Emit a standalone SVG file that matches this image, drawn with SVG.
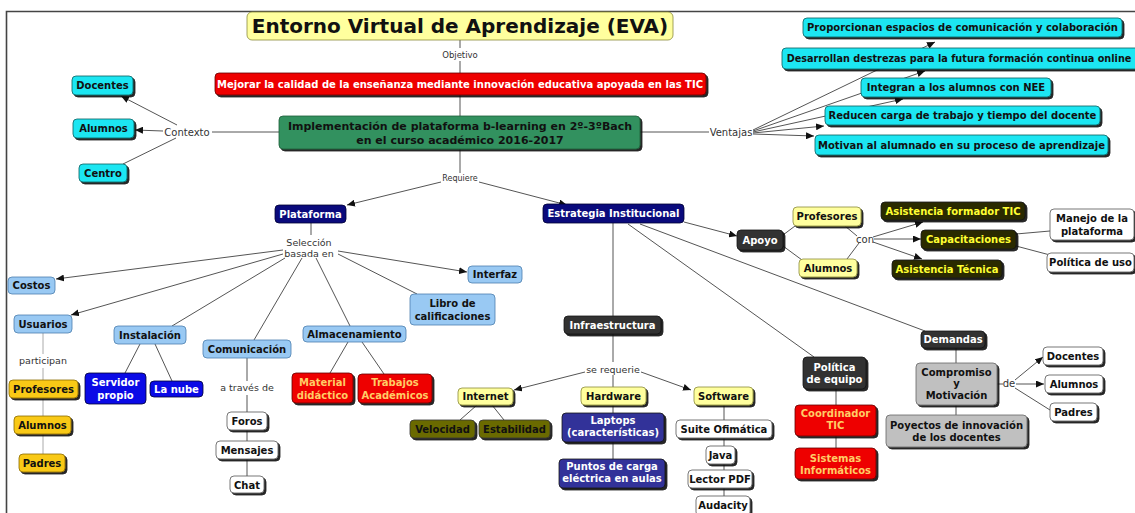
<svg xmlns="http://www.w3.org/2000/svg" width="1135" height="513" viewBox="0 0 1135 513">
<defs>
<filter id="sh" x="-10%" y="-20%" width="125%" height="160%"><feDropShadow dx="2" dy="2" stdDeviation="0.5" flood-color="#111" flood-opacity="0.9"/></filter>
<marker id="ar" markerUnits="userSpaceOnUse" markerWidth="9" markerHeight="7" refX="8" refY="3.5" orient="auto"><path d="M0,0 L8,3.5 L0,7 z" fill="#111"/></marker>
<style>
text{font-family:"DejaVu Sans","Verdana",sans-serif;text-anchor:middle}
.n{font-weight:bold;font-size:10px}
.lb{font-size:9.5px;fill:#333}
rect{stroke-width:0.8}
.cy{fill:#1ee6f2;stroke:#0b5e5e;filter:url(#sh)}
.rd{fill:#ee0000;stroke:#600;filter:url(#sh)}
.nv{fill:#0a0a7c;stroke:#003}
.lbb{fill:#99c9f3;stroke:#4d7fae}
.or{fill:#f9c919;stroke:#8a6a00;filter:url(#sh)}
.bl{fill:#0a0ae6;stroke:#003}
.wh{fill:#fff;stroke:#555;filter:url(#sh)}
.ly{fill:#ffff9e;stroke:#8a8a3a;filter:url(#sh)}
.dg{fill:#333;stroke:#111;filter:url(#sh)}
.ol{fill:#2b2b00;stroke:#111;filter:url(#sh)}
.ov{fill:#6b6b00;stroke:#333;filter:url(#sh)}
.gr{fill:#c0c0c0;stroke:#666;filter:url(#sh)}
.pu{fill:#333399;stroke:#111;filter:url(#sh)}
.tw{fill:#fff}
.tk{fill:#111}
.ty{fill:#ffff33}
.to{fill:#ffcc66}
.c path,.c line{stroke:#555;stroke-width:1;fill:none}
.c .lt{stroke:#aaa}
.c .ar{marker-end:url(#ar)}
</style>
</defs>
<rect width="1135" height="513" fill="#fff"/>
<path d="M6.5,513 V11.5 H1135" fill="none" stroke="#444" stroke-width="1.6"/>

<g id="connectors" class="c">
<line x1="460" y1="40" x2="460" y2="48"/>
<line x1="460" y1="61" x2="460" y2="73"/>
<line x1="460" y1="95" x2="460" y2="116"/>
<line x1="460" y1="149" x2="460" y2="173"/>
<line x1="279" y1="132" x2="212" y2="132"/>
<line class="ar" x1="177" y1="125" x2="121" y2="96"/>
<line class="ar" x1="163" y1="131" x2="135" y2="130"/>
<line x1="176" y1="138" x2="123" y2="164"/>
<line x1="640" y1="132" x2="709" y2="132"/>
<line class="ar" x1="753" y1="130" x2="935" y2="42"/>
<line class="ar" x1="753" y1="131" x2="925" y2="71"/>
<line class="ar" x1="753" y1="132" x2="903" y2="99"/>
<line class="ar" x1="753" y1="133" x2="824" y2="126"/>
<line class="ar" x1="753" y1="134" x2="814" y2="136"/>
<line class="ar" x1="441" y1="182" x2="347" y2="205"/>
<line class="ar" x1="479" y1="182" x2="567" y2="205"/>
<line x1="311" y1="223" x2="311" y2="235"/>
<line class="ar" x1="283" y1="250" x2="56" y2="279"/>
<line class="ar" x1="283" y1="254" x2="71" y2="315"/>
<line x1="285" y1="258" x2="172" y2="326"/>
<line x1="302" y1="258" x2="254" y2="340"/>
<line x1="316" y1="258" x2="350" y2="326"/>
<line x1="338" y1="254" x2="417" y2="294"/>
<line class="ar" x1="338" y1="251" x2="467" y2="272"/>
<line class="lt" x1="43" y1="333" x2="43" y2="354"/>
<line class="lt" x1="43" y1="368" x2="43" y2="454"/>
<line x1="140" y1="344" x2="125" y2="373"/>
<line x1="155" y1="344" x2="172" y2="381"/>
<line x1="247" y1="358" x2="247" y2="381"/>
<line x1="247" y1="395" x2="247" y2="476"/>
<line x1="348" y1="342" x2="330" y2="373"/>
<line x1="362" y1="342" x2="384" y2="374"/>
<line x1="613" y1="223" x2="613" y2="316"/>
<line x1="613" y1="334" x2="613" y2="362"/>
<line x1="613" y1="375" x2="613" y2="459"/>
<line class="ar" x1="585" y1="372" x2="514" y2="390"/>
<line class="ar" x1="641" y1="372" x2="691" y2="390"/>
<line x1="477" y1="405" x2="460" y2="420"/>
<line x1="492" y1="405" x2="504" y2="420"/>
<line x1="724" y1="405" x2="724" y2="496"/>
<line class="ar" x1="684" y1="222" x2="737" y2="236"/>
<line x1="783" y1="235" x2="795" y2="226"/>
<line x1="783" y1="246" x2="802" y2="260"/>
<line x1="845" y1="226" x2="857" y2="236"/>
<line x1="847" y1="259" x2="859" y2="243"/>
<line class="ar" x1="873" y1="237" x2="923" y2="222"/>
<line class="ar" x1="874" y1="239" x2="921" y2="239"/>
<line class="ar" x1="873" y1="242" x2="922" y2="259"/>
<line x1="1016" y1="234" x2="1050" y2="231"/>
<line x1="1016" y1="246" x2="1050" y2="255"/>
<line x1="640" y1="224" x2="925" y2="331"/>
<line x1="628" y1="224" x2="814" y2="357"/>
<line x1="956" y1="348" x2="956" y2="363"/>
<line x1="956" y1="405" x2="956" y2="415"/>
<line x1="997" y1="384" x2="1003" y2="384"/>
<line class="ar" x1="1015" y1="380" x2="1043" y2="357"/>
<line class="ar" x1="1016" y1="384" x2="1044" y2="384"/>
<line x1="1015" y1="388" x2="1050" y2="410"/>
<line x1="836" y1="389" x2="836" y2="448"/>
</g>

<g id="labels">
<text class="lb" x="460" y="58" style="font-size:8.5px">Objetivo</text>
<text class="lb" x="187" y="136" style="font-size:10px">Contexto</text>
<text class="lb" x="731" y="136" style="font-size:10px">Ventajas</text>
<text class="lb" x="460" y="181" style="font-size:8px">Requiere</text>
<text class="lb" x="309" y="246">Selección</text>
<text class="lb" x="309" y="257">basada en</text>
<text class="lb" x="43" y="364">participan</text>
<text class="lb" x="247" y="391">a través de</text>
<text class="lb" x="613" y="373">se requerie</text>
<text class="lb" x="865" y="243" style="font-size:10px">con</text>
<text class="lb" x="1009" y="387" style="font-size:10px">de</text>
</g>

<g id="title"><rect x="247" y="12" width="426" height="28" rx="5" fill="#ffff9e" stroke="#8a8a3a"/><text x="460" y="33" style="font-size:20px;font-weight:bold" class="tk">Entorno Virtual de Aprendizaje (EVA)</text></g>
<g id="objetivo"><rect class="rd" x="215" y="73" width="491" height="22" rx="4"/><text class="n tw" x="460" y="88">Mejorar la calidad de la enseñanza mediante innovación educativa apoyada en las TIC</text></g>
<g id="implementacion"><rect x="279" y="116" width="361" height="33" rx="4" fill="#33915e" stroke="#1d5a3a" filter="url(#sh)"/><text class="n tk" x="460" y="130" style="font-size:11px">Implementación de plataforma b-learning en 2º-3ºBach</text><text class="n tk" x="460" y="144" style="font-size:11px">en el curso académico 2016-2017</text></g>

<g id="ctx-docentes"><rect class="cy" x="72" y="76" width="61" height="19" rx="4"/><text class="n tk" x="102.5" y="89">Docentes</text></g>
<g id="ctx-alumnos"><rect class="cy" x="73" y="119" width="61" height="19" rx="4"/><text class="n tk" x="103.5" y="132">Alumnos</text></g>
<g id="ctx-centro"><rect class="cy" x="79" y="164" width="48" height="18" rx="4"/><text class="n tk" x="103" y="177">Centro</text></g>

<g id="v1"><rect class="cy" x="803" y="18" width="319" height="19" rx="4"/><text class="n tk" x="962.5" y="31">Proporcionan espacios de comunicación y colaboración</text></g>
<g id="v2"><rect class="cy" x="782" y="48" width="360" height="21" rx="4"/><text class="n tk" x="959" y="62" style="font-size:9.7px">Desarrollan destrezas para la futura formación continua online</text></g>
<g id="v3"><rect class="cy" x="861" y="78" width="190" height="19" rx="4"/><text class="n tk" x="956" y="91">Integran a los alumnos con NEE</text></g>
<g id="v4"><rect class="cy" x="825" y="106" width="275" height="19" rx="4"/><text class="n tk" x="962.5" y="119">Reducen carga de trabajo y tiempo del docente</text></g>
<g id="v5"><rect class="cy" x="815" y="135" width="293" height="20" rx="4"/><text class="n tk" x="961.5" y="149">Motivan al alumnado en su proceso de aprendizaje</text></g>

<g id="plataforma"><rect class="nv" x="275" y="205" width="71" height="18" rx="4"/><text class="n tw" x="310.5" y="218">Plataforma</text></g>
<g id="estrategia"><rect class="nv" x="543" y="204" width="141" height="19" rx="4"/><text class="n tw" x="613.5" y="217">Estrategia Institucional</text></g>

<g id="costos"><rect class="lbb" x="8" y="277" width="47" height="17" rx="4"/><text class="n tk" x="31.5" y="289">Costos</text></g>
<g id="usuarios"><rect class="lbb" x="14" y="315" width="58" height="18" rx="4"/><text class="n tk" x="43" y="328">Usuarios</text></g>
<g id="u-profesores"><rect class="or" x="9" y="380" width="69" height="18" rx="4"/><text class="n tk" x="43.5" y="393">Profesores</text></g>
<g id="u-alumnos"><rect class="or" x="14" y="416" width="57" height="18" rx="4"/><text class="n tk" x="42.5" y="429">Alumnos</text></g>
<g id="u-padres"><rect class="or" x="19" y="454" width="46" height="18" rx="4"/><text class="n tk" x="42" y="467">Padres</text></g>
<g id="instalacion"><rect class="lbb" x="114" y="326" width="72" height="18" rx="4"/><text class="n tk" x="150" y="339">Instalación</text></g>
<g id="servidor"><rect class="bl" x="85" y="373" width="61" height="31" rx="4"/><text class="n tw" x="115.5" y="386">Servidor</text><text class="n tw" x="115.5" y="399">propio</text></g>
<g id="nube"><rect class="bl" x="150" y="381" width="53" height="16" rx="4"/><text class="n tw" x="176.5" y="393">La nube</text></g>
<g id="comunicacion"><rect class="lbb" x="203" y="340" width="88" height="18" rx="4"/><text class="n tk" x="247" y="353">Comunicación</text></g>
<g id="foros"><rect class="wh" x="227" y="412" width="40" height="18" rx="4"/><text class="n tk" x="247" y="425">Foros</text></g>
<g id="mensajes"><rect class="wh" x="216" y="441" width="62" height="18" rx="4"/><text class="n tk" x="247" y="454">Mensajes</text></g>
<g id="chat"><rect class="wh" x="230" y="476" width="34" height="17" rx="4"/><text class="n tk" x="247" y="489">Chat</text></g>
<g id="almacenamiento"><rect class="lbb" x="303" y="326" width="103" height="16" rx="4"/><text class="n tk" x="354.5" y="338">Almacenamiento</text></g>
<g id="material"><rect class="rd" x="292" y="373" width="61" height="30" rx="4"/><text class="n to" x="322.5" y="386">Material</text><text class="n to" x="322.5" y="399">didáctico</text></g>
<g id="trabajos"><rect class="rd" x="358" y="374" width="74" height="29" rx="4"/><text class="n to" x="395" y="386">Trabajos</text><text class="n to" x="395" y="399">Académicos</text></g>
<g id="libro"><rect class="lbb" x="410" y="294" width="85" height="31" rx="4"/><text class="n tk" x="452.5" y="307">Libro de</text><text class="n tk" x="452.5" y="320">calificaciones</text></g>
<g id="interfaz"><rect class="lbb" x="468" y="266" width="54" height="17" rx="4"/><text class="n tk" x="495" y="278">Interfaz</text></g>

<g id="apoyo"><rect class="dg" x="737" y="230" width="46" height="20" rx="4"/><text class="n tw" x="760" y="244">Apoyo</text></g>
<g id="a-profesores"><rect class="ly" x="793" y="207" width="68" height="19" rx="4"/><text class="n tk" x="827" y="220">Profesores</text></g>
<g id="a-alumnos"><rect class="ly" x="799" y="259" width="58" height="18" rx="4"/><text class="n tk" x="828" y="272">Alumnos</text></g>
<g id="asist-formador"><rect class="ol" x="881" y="202" width="144" height="18" rx="4"/><text class="n ty" x="953" y="215">Asistencia formador TIC</text></g>
<g id="capacitaciones"><rect class="ol" x="921" y="230" width="95" height="19" rx="4"/><text class="n ty" x="968.5" y="243">Capacitaciones</text></g>
<g id="asist-tecnica"><rect class="ol" x="892" y="260" width="110" height="18" rx="4"/><text class="n ty" x="947" y="273">Asistencia Técnica</text></g>
<g id="manejo"><rect class="wh" x="1050" y="209" width="84" height="31" rx="4"/><text class="n tk" x="1092" y="222">Manejo de la</text><text class="n tk" x="1092" y="235">plataforma</text></g>
<g id="politica-uso"><rect class="wh" x="1047" y="253" width="87" height="19" rx="4"/><text class="n tk" x="1090.5" y="266">Política de uso</text></g>

<g id="demandas"><rect class="dg" x="921" y="331" width="64" height="17" rx="4"/><text class="n tw" x="953" y="343">Demandas</text></g>
<g id="compromiso"><rect class="gr" x="916" y="363" width="81" height="42" rx="4"/><text class="n tk" x="956.5" y="376">Compromiso</text><text class="n tk" x="956.5" y="387">y</text><text class="n tk" x="956.5" y="399">Motivación</text></g>
<g id="proyectos"><rect class="gr" x="886" y="415" width="141" height="32" rx="4"/><text class="n tk" x="956.5" y="429">Poyectos de innovación</text><text class="n tk" x="956.5" y="441">de los docentes</text></g>
<g id="d-docentes"><rect class="wh" x="1043" y="347" width="60" height="18" rx="4"/><text class="n tk" x="1073" y="360">Docentes</text></g>
<g id="d-alumnos"><rect class="wh" x="1045" y="375" width="58" height="18" rx="4"/><text class="n tk" x="1074" y="388">Alumnos</text></g>
<g id="d-padres"><rect class="wh" x="1050" y="403" width="47" height="18" rx="4"/><text class="n tk" x="1073.5" y="416">Padres</text></g>

<g id="politica-equipo"><rect class="dg" x="803" y="357" width="63" height="32" rx="4"/><text class="n tw" x="834.5" y="371">Política</text><text class="n tw" x="834.5" y="383">de equipo</text></g>
<g id="coordinador"><rect class="rd" x="795" y="405" width="81" height="31" rx="4"/><text class="n to" x="835.5" y="417">Coordinador</text><text class="n to" x="835.5" y="429">TIC</text></g>
<g id="sistemas"><rect class="rd" x="795" y="448" width="81" height="31" rx="4"/><text class="n to" x="835.5" y="462">Sistemas</text><text class="n to" x="835.5" y="474">Informáticos</text></g>

<g id="infraestructura"><rect class="dg" x="564" y="316" width="97" height="18" rx="4"/><text class="n tw" x="612.5" y="329">Infraestructura</text></g>
<g id="hardware"><rect class="ly" x="581" y="387" width="65" height="18" rx="4"/><text class="n tk" x="613.5" y="400">Hardware</text></g>
<g id="laptops"><rect class="pu" x="562" y="413" width="102" height="29" rx="4"/><text class="n tw" x="613" y="424">Laptops</text><text class="n tw" x="613" y="436">(características)</text></g>
<g id="puntos"><rect class="pu" x="559" y="459" width="106" height="29" rx="4"/><text class="n tw" x="612" y="470">Puntos de carga</text><text class="n tw" x="612" y="482">eléctrica en aulas</text></g>
<g id="internet"><rect class="ly" x="458" y="388" width="55" height="17" rx="4"/><text class="n tk" x="485.5" y="400">Internet</text></g>
<g id="velocidad"><rect class="ov" x="410" y="420" width="65" height="18" rx="4"/><text class="n tk" x="442.5" y="433">Velocidad</text></g>
<g id="estabilidad"><rect class="ov" x="479" y="420" width="71" height="18" rx="4"/><text class="n tk" x="514.5" y="433">Estabilidad</text></g>
<g id="software"><rect class="ly" x="694" y="387" width="59" height="18" rx="4"/><text class="n tk" x="723.5" y="400">Software</text></g>
<g id="suite"><rect class="wh" x="676" y="420" width="96" height="18" rx="4"/><text class="n tk" x="724" y="433">Suite Ofimática</text></g>
<g id="java"><rect class="wh" x="706" y="446" width="29" height="18" rx="4"/><text class="n tk" x="720.5" y="459">Java</text></g>
<g id="lector"><rect class="wh" x="688" y="470" width="64" height="18" rx="4"/><text class="n tk" x="720" y="483">Lector PDF</text></g>
<g id="audacity"><rect class="wh" x="696" y="496" width="54" height="20" rx="4"/><text class="n tk" x="723" y="509">Audacity</text></g>
</svg>
